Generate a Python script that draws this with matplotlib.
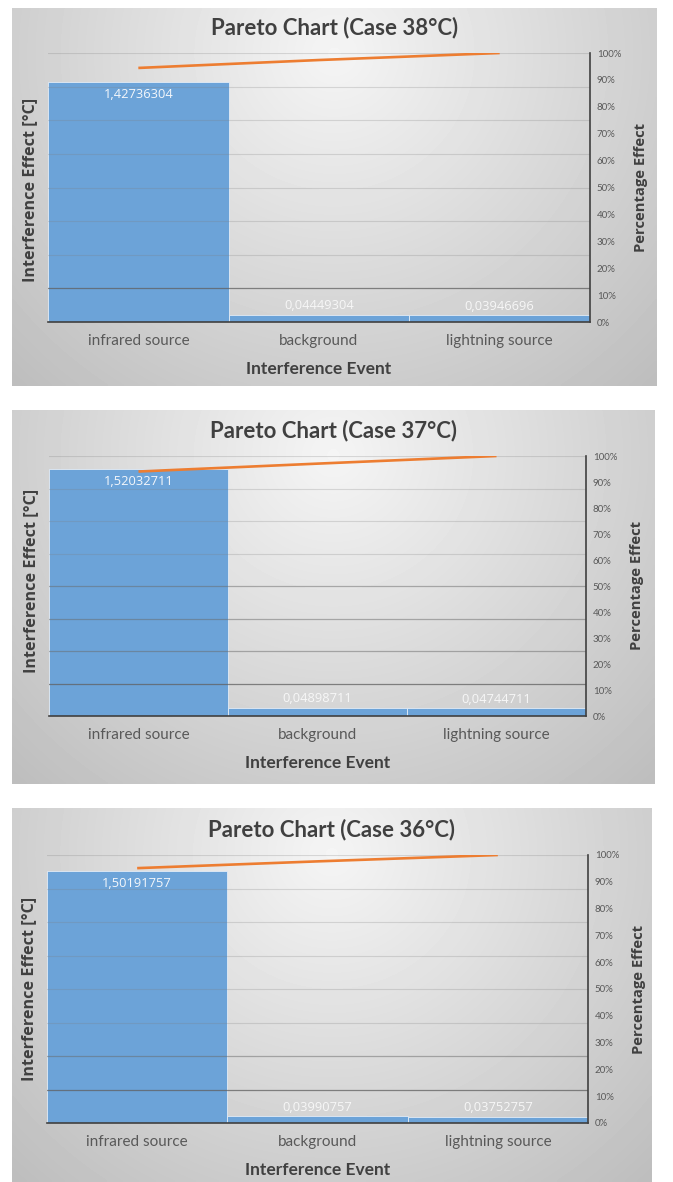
#!/usr/bin/python

"""
Three stacked Pareto charts of interference effects (cases 38, 37, 36 degC).
"""

import numpy as np
import matplotlib
matplotlib.use("Agg")
import matplotlib.pyplot as plt
from matplotlib.ticker import PercentFormatter

# data
EVENTS = ["infrared source", "background", "lightning source"]
CASES = ["Pareto Chart (Case 38°C)", "Pareto Chart (Case 37°C)", "Pareto Chart (Case 36°C)"]
EFFECT_38 = [1.42736304, 0.04449304, 0.03946696]
EFFECT_37 = [1.52032711, 0.04898711, 0.04744711]
EFFECT_36 = [1.50191757, 0.03990757, 0.03752757]
LEFT_MAX = 1.6

# colours
c_bar = "#6CA3D8"
c_line = "#ED7D31"
c_text = "#595959"
c_title = "#404040"

W, H = 673, 1182
DPI = 100

# panel frames and plot areas in pixels (left, right, top, bottom)
PANELS = [(12, 657, 8, 386), (12, 654, 410, 784), (12, 652, 808, 1182)]
AREAS = [(48, 590, 53, 322), (49, 586, 456, 716), (47, 588, 855, 1123)]
DARK_GRID = [1, 4, 2]  # how many of the lowest grid lines look darker
YLABEL_SHIFT = [2, -5, 0]


def fx(x):
    return x / W


def fy(y):
    return 1 - y / H


def label_fmt(v):
    return "{:.8f}".format(v).replace(".", ",")


def draw_background(fig, panel):
    x0, x1, y0, y1 = panel
    bg = fig.add_axes([fx(x0), fy(y1), fx(x1 - x0), (y1 - y0) / H], zorder=-5)
    u, v = np.meshgrid(np.linspace(0, 1, 200), np.linspace(0, 1, 120))
    d = np.sqrt(((u - 0.5) / 0.6) ** 2 + ((v - 0.12) / 1.0) ** 2)
    shade = 0.96 - 0.18 * np.clip(d, 0, 1.2)
    bg.imshow(shade, cmap="gray", vmin=0, vmax=1, aspect="auto",
              extent=[0, 1, 1, 0], interpolation="bilinear")
    bg.set_axis_off()


def make_pareto(fig, panel, area, title, values, n_dark, shift):
    draw_background(fig, panel)
    px0, px1, py0, py1 = panel
    l, r, t, b = area
    ax = fig.add_axes([fx(l), fy(b), fx(r - l), (b - t) / H])
    ax.patch.set_alpha(0)

    x = np.arange(len(EVENTS))
    bars = ax.bar(x, values, width=1.0, color=c_bar, edgecolor="#E3ECF6",
                  linewidth=0.6, zorder=2)
    ax.set_xlim(-0.5, len(EVENTS) - 0.5)
    ax.set_ylim(0, LEFT_MAX)

    # grid lines on left axis, drawn faintly over the bars
    for k, g in enumerate(np.arange(0.2, LEFT_MAX + 0.01, 0.2)):
        if k == 0:
            ax.axhline(g, color="#606060", lw=0.9, alpha=0.75, zorder=3)
        elif k < n_dark:
            ax.axhline(g, color="#6A6A6A", lw=0.9, alpha=0.5, zorder=3)
        else:
            ax.axhline(g, color="#7F7F7F", lw=0.8, alpha=0.25, zorder=3)

    for s in ["left", "top", "right"]:
        ax.spines[s].set_visible(False)
    ax.spines["bottom"].set_color("#404040")
    ax.spines["bottom"].set_linewidth(1.2)
    ax.spines["bottom"].set_zorder(4)
    ax.set_yticks([])
    ax.set_xticks(x)
    ax.set_xticklabels(EVENTS, fontsize=11, color=c_text, family="Lato")
    ax.tick_params(axis="x", length=0, pad=8.5)

    # data labels
    for i, (bar, v) in enumerate(zip(bars, values)):
        if i == 0:
            ax.annotate(label_fmt(v), (bar.get_x() + 0.5, v), xytext=(0, -4),
                        textcoords="offset points", ha="center", va="top",
                        fontsize=9.3, color="#F4F7FB", family="Open Sans", zorder=5)
        else:
            ax.annotate(label_fmt(v), (bar.get_x() + 0.5, v), xytext=(0, 2),
                        textcoords="offset points", ha="center", va="bottom",
                        fontsize=9.3, color="#F7F7F7", family="Open Sans", zorder=5)

    # cumulative percentage on the secondary axis
    ax2 = ax.twinx()
    cum = np.cumsum(values) / np.sum(values)
    ax2.plot(x, cum, color=c_line, lw=1.9, solid_capstyle="butt", zorder=6)
    ax2.set_ylim(0, 1)
    ax2.set_yticks(np.arange(0, 1.01, 0.1))
    ax2.yaxis.set_major_formatter(PercentFormatter(1.0, decimals=0))
    ax2.tick_params(axis="y", length=0, labelsize=7, labelcolor=c_text, pad=5)
    for lab in ax2.get_yticklabels():
        lab.set_family("Lato")
    for s in ["left", "top", "bottom"]:
        ax2.spines[s].set_visible(False)
    ax2.spines["right"].set_color("#404040")
    ax2.spines["right"].set_linewidth(1.2)

    # titles and axis labels
    cx = (px0 + px1) / 2
    fig.text(fx(cx), fy(t - 25), title, ha="center", va="center",
             fontsize=16, fontweight="bold", color=c_title, family="Lato")
    fig.text(fx((l + r) / 2), fy(b + 47), "Interference Event", ha="center",
             va="center", fontsize=12.5, fontweight="bold", color=c_title,
             family="Lato")
    fig.text(fx(l - 18), fy((t + b) / 2 + shift), "Interference Effect [°C]",
             rotation=90, ha="center", va="center", fontsize=11.6,
             fontweight="bold", color=c_title, family="Open Sans")
    fig.text(fx(r + 51), fy((t + b) / 2), "Percentage Effect", rotation=90,
             ha="center", va="center", fontsize=10.6, fontweight="bold",
             color=c_title, family="Open Sans")


def main():
    fig = plt.figure(figsize=(W / DPI, H / DPI), dpi=DPI)
    fig.patch.set_facecolor("white")
    series = [EFFECT_38, EFFECT_37, EFFECT_36]
    for panel, area, title, values, nd, sh in zip(PANELS, AREAS, CASES, series,
                                                  DARK_GRID, YLABEL_SHIFT):
        make_pareto(fig, panel, area, title, values, nd, sh)
    fig.savefig("out.png", dpi=DPI)


if __name__ == "__main__":
    main()
